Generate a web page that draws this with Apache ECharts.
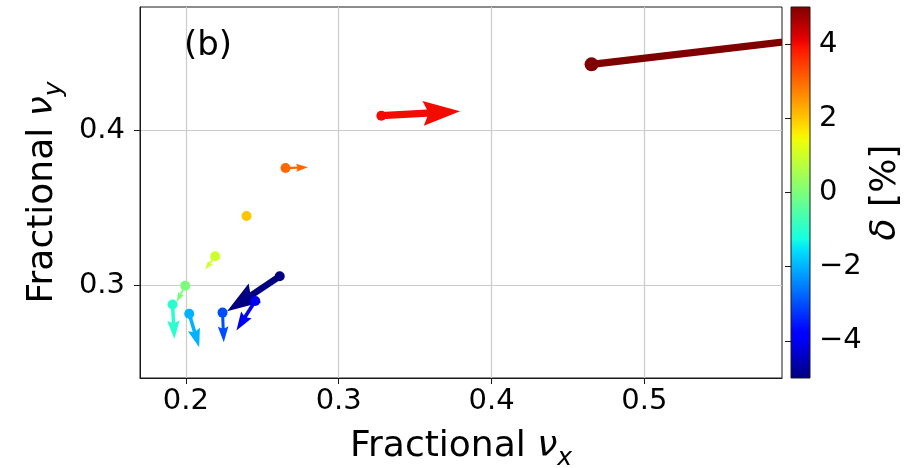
<!DOCTYPE html>
<html>
<head>
<meta charset="utf-8">
<script src="https://cdn.jsdelivr.net/npm/echarts@6/dist/echarts.min.js"></script>
<style>
html,body{margin:0;padding:0;background:#fff;}
#chart{width:912px;height:468px;}
</style>
</head>
<body>
<div id="chart"></div>
<script>
// ---- data ----
const nuX   = [0.2614, 0.2454, 0.2240, 0.2022, 0.1913, 0.1996, 0.2192, 0.2397, 0.2652, 0.3279, 0.4654];
const nuY   = [0.3058, 0.2898, 0.2823, 0.2816, 0.2875, 0.2997, 0.3188, 0.3448, 0.3758, 0.4097, 0.4429];
const dNuX  = [-0.0344, -0.0123, 0.0008, 0.0065, 0.0012, -0.0057, -0.0066, 0.0004, 0.0147, 0.0515, 0.2500];
const dNuY  = [-0.0227, -0.0190, -0.0191, -0.0217, -0.0222, -0.0105, -0.0086, -0.0004, 0.0006, 0.0028, 0.0288];
const delta = [-5, -4, -3, -2, -1, 0, 1, 2, 3, 4, 5];
const xTicks = [0.2, 0.3, 0.4, 0.5];
const yTicks = [0.3, 0.4];
const cbTicks = [-4, -2, 0, 2, 4];
const deltaMin = -5, deltaMax = 5;

// ---- jet colormap ----
function seg(t, pts) {
  for (let i = 1; i < pts.length; i++) {
    if (t <= pts[i][0]) {
      const a = pts[i - 1], b = pts[i];
      return a[1] + (b[1] - a[1]) * (t - a[0]) / (b[0] - a[0]);
    }
  }
  return pts[pts.length - 1][1];
}
function jet(t) {
  const r = seg(t, [[0,0],[0.35,0],[0.66,1],[0.89,1],[1,0.5]]);
  const g = seg(t, [[0,0],[0.125,0],[0.375,1],[0.64,1],[0.91,0],[1,0]]);
  const b = seg(t, [[0,0.5],[0.11,1],[0.34,1],[0.65,0],[1,0]]);
  const h = v => Math.round(v * 255).toString(16).padStart(2, '0');
  return '#' + h(r) + h(g) + h(b);
}
const N = 64;
const jetColors = [];
const jetStops = [];
for (let i = 0; i <= N; i++) {
  const t = i / N;
  jetColors.push(jet(t));
  jetStops.push({ offset: t, color: jet(t) });
}

const source = nuX.map((x, i) => [x, nuY[i], dNuX[i], dNuY[i], delta[i]]);

const FONT = 'DejaVu Sans';
const FULL_LEN = 70, SHAFT_HALF = 3.6, HEAD_HALF = 12.5, HEAD_LEN = 37, HEAD_AXIS = 33;

function renderArrow(params, api) {
  const x0 = api.value(0), y0 = api.value(1), dx = api.value(2), dy = api.value(3);
  const p0 = api.coord([x0, y0]);
  const p1 = api.coord([x0 + dx, y0 + dy]);
  const vx = p1[0] - p0[0], vy = p1[1] - p0[1];
  const L = Math.hypot(vx, vy);
  if (L < 1e-6) return null;
  const ux = vx / L, uy = vy / L, nx = -uy, ny = ux;
  const s = Math.min(1, L / FULL_LEN);
  const hw = SHAFT_HALF * s, HW = HEAD_HALF * s, HL = HEAD_LEN * s, HA = HEAD_AXIS * s;
  const pt = (a, b) => [p0[0] + ux * a + nx * b, p0[1] + uy * a + ny * b];
  const points = [pt(0, hw), pt(L - HA, hw), pt(L - HL, HW), pt(L, 0), pt(L - HL, -HW), pt(L - HA, -hw), pt(0, -hw)];
  const cs = params.coordSys;
  return {
    type: 'group',
    clipPath: { type: 'rect', shape: { x: cs.x, y: cs.y, width: cs.width, height: cs.height } },
    children: [{ type: 'polygon', shape: { points }, style: { fill: api.visual('color'), stroke: null } }]
  };
}

function renderColorbar(params, api) {
  const a = api.coord([0, deltaMax]);
  const b = api.coord([1, deltaMin]);
  return {
    type: 'rect',
    shape: { x: a[0], y: a[1], width: b[0] - a[0], height: b[1] - a[1] },
    style: {
      fill: { type: 'linear', x: 0, y: 1, x2: 0, y2: 0, colorStops: jetStops },
      stroke: '#1a1a1a', lineWidth: 1
    }
  };
}

const minus = v => (v < 0 ? '\u2212' + Math.abs(v) : String(v));

const nameRich = {
  nu: { fontFamily: FONT, fontSize: 36, fontStyle: 'italic', color: '#000', lineHeight: 48 },
  sub: { fontFamily: FONT, fontSize: 25, fontStyle: 'italic', color: '#000', lineHeight: 48, verticalAlign: 'bottom' }
};

const chart = echarts.init(document.getElementById('chart'));
chart.setOption({
  backgroundColor: '#fff',
  animation: false,
  title: {
    text: '(b)', left: 184, top: 29, padding: 0,
    textStyle: { fontFamily: FONT, fontSize: 34, fontWeight: 'normal', color: '#000' }
  },
  dataset: { source },
  visualMap: {
    type: 'continuous', show: false, min: deltaMin, max: deltaMax,
    dimension: 4, seriesIndex: [0, 1], inRange: { color: jetColors }
  },
  grid: [
    { left: 140, top: 7, width: 642, height: 371, show: true, borderColor: '#1a1a1a', borderWidth: 1,
      backgroundColor: 'transparent', containLabel: false, outerBoundsMode: 'none' },
    { left: 791, top: 7, width: 19, height: 371, show: false, containLabel: false, outerBoundsMode: 'none' }
  ],
  xAxis: [
    {
      type: 'value', gridIndex: 0, min: 0.17, max: 0.59,
      name: 'Fractional {nu|ν}{sub|x}', nameLocation: 'middle', nameGap: 45,
      nameTextStyle: { fontFamily: FONT, fontSize: 36, color: '#000', lineHeight: 48, rich: nameRich },
      axisLine: { show: true, onZero: false, lineStyle: { color: '#1a1a1a', width: 1 } },
      axisTick: { show: true, length: 6, lineStyle: { color: '#1a1a1a', width: 1 }, customValues: xTicks },
      axisLabel: { show: true, margin: 9, fontFamily: FONT, fontSize: 29, color: '#000', customValues: xTicks, formatter: v => String(v) },
      splitLine: { show: true, lineStyle: { color: '#cccccc', width: 1.2 } }
    },
    { type: 'value', gridIndex: 1, min: 0, max: 1, show: false }
  ],
  yAxis: [
    {
      type: 'value', gridIndex: 0, min: 0.24, max: 0.48,
      name: 'Fractional {nu|ν}{sub|y}', nameLocation: 'middle', nameGap: 73,
      nameTextStyle: { fontFamily: FONT, fontSize: 36, color: '#000', lineHeight: 48, rich: nameRich },
      axisLine: { show: true, onZero: false, lineStyle: { color: '#1a1a1a', width: 1 } },
      axisTick: { show: true, length: 6, lineStyle: { color: '#1a1a1a', width: 1 }, customValues: yTicks },
      axisLabel: { show: true, margin: 15, fontFamily: FONT, fontSize: 29, color: '#000', customValues: yTicks, formatter: v => String(v) },
      splitLine: { show: true, lineStyle: { color: '#cccccc', width: 1.2 } }
    },
    {
      type: 'value', gridIndex: 1, min: deltaMin, max: deltaMax, position: 'right',
      name: '{d|δ} [%]', nameLocation: 'middle', nameGap: 56, nameRotate: 90,
      nameTextStyle: {
        fontFamily: FONT, fontSize: 36, color: '#000', lineHeight: 40,
        rich: { d: { fontFamily: FONT, fontSize: 36, fontStyle: 'italic', color: '#000', lineHeight: 40 } }
      },
      axisLine: { show: false },
      axisTick: { show: true, inside: true, length: 6, lineStyle: { color: '#1a1a1a', width: 1 }, customValues: cbTicks },
      axisLabel: { show: true, margin: 9, fontFamily: FONT, fontSize: 29, color: '#000', customValues: cbTicks, formatter: minus },
      splitLine: { show: false }
    }
  ],
  series: [
    {
      type: 'custom', xAxisIndex: 0, yAxisIndex: 0, datasetIndex: 0,
      encode: { x: 0, y: 1 }, renderItem: renderArrow, clip: true, z: 2
    },
    {
      type: 'scatter', xAxisIndex: 0, yAxisIndex: 0, datasetIndex: 0,
      encode: { x: 0, y: 1 }, symbol: 'circle',
      symbolSize: v => (v[4] >= deltaMax ? 14 : 10),
      itemStyle: { opacity: 1 }, z: 3, clip: true
    },
    {
      type: 'custom', xAxisIndex: 1, yAxisIndex: 1,
      data: [[0, deltaMin]], renderItem: renderColorbar, z: 1, silent: true
    }
  ]
});
</script>
</body>
</html>
